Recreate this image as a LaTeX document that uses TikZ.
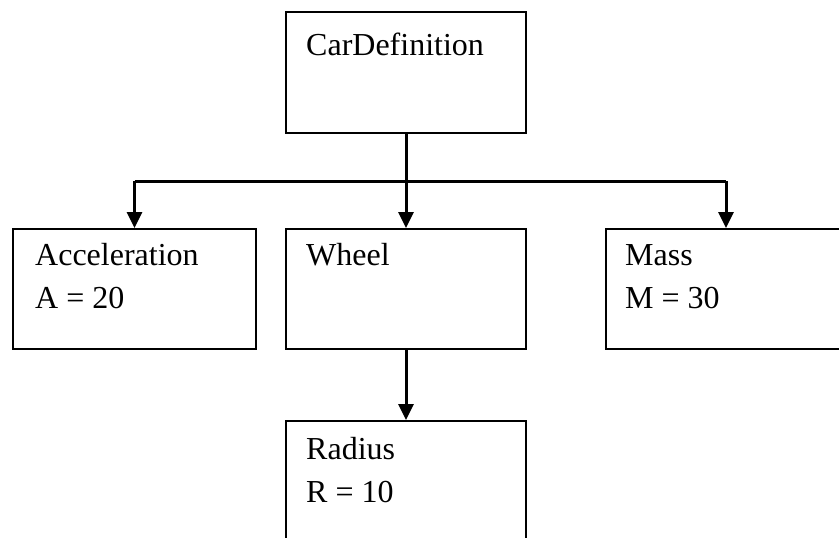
\documentclass[tikz,border=0pt]{standalone}
\usepackage{fontspec}
\setmainfont{Liberation Serif}
\usetikzlibrary{arrows.meta}

\begin{document}
\begin{tikzpicture}[x=1pt, y=-1pt,
		box/.style={draw, black, line width=2pt, anchor=north west, minimum width=240pt, minimum height=120pt, inner sep=0pt},
		txt/.style={anchor=base west, inner sep=0pt, font=\fontsize{32}{38}\selectfont},
		link/.style={black, line width=3pt},
		arr/.style={link, -{Triangle[length=16pt, width=15pt]}}]
			\useasboundingbox (0, 0) rectangle (839, 538);
			\clip (0, 0) rectangle (839, 538);

			\node[box, minimum height=121pt]	(car) at (285, 11) {};
			\node[box, minimum width=243pt]	(accel) at (12, 228) {};
			\node[box]	(wheel) at (285, 228) {};
			\node[box]	(mass) at (605, 228) {};
			\node[box]	(radius) at (285, 420) {};

			\node[txt]	(cartxt) at (306, 55) {CarDefinition};
			\node[txt]	(acceltxt) at (35, 265) {Acceleration};
			\node[txt]	(accelval) at (35, 308) {A = 20};
			\node[txt]	(wheeltxt) at (306, 265) {Wheel};
			\node[txt]	(masstxt) at (625, 265) {Mass};
			\node[txt]	(massval) at (625, 308) {M = 30};
			\node[txt]	(radiustxt) at (306, 459) {Radius};
			\node[txt]	(radiusval) at (306, 502) {R = 10};

			\coordinate (bar) at (405, 181);

			\draw[arr]	(car.south) to (wheel.north);
			\draw[link]	(accel.north |- bar) to (mass.north |- bar);
			\draw[arr]	(accel.north |- bar) to (accel.north);
			\draw[arr]	(mass.north |- bar) to (mass.north);
			\draw[arr]	(wheel.south) to (radius.north);
		\end{tikzpicture}
\end{document}
